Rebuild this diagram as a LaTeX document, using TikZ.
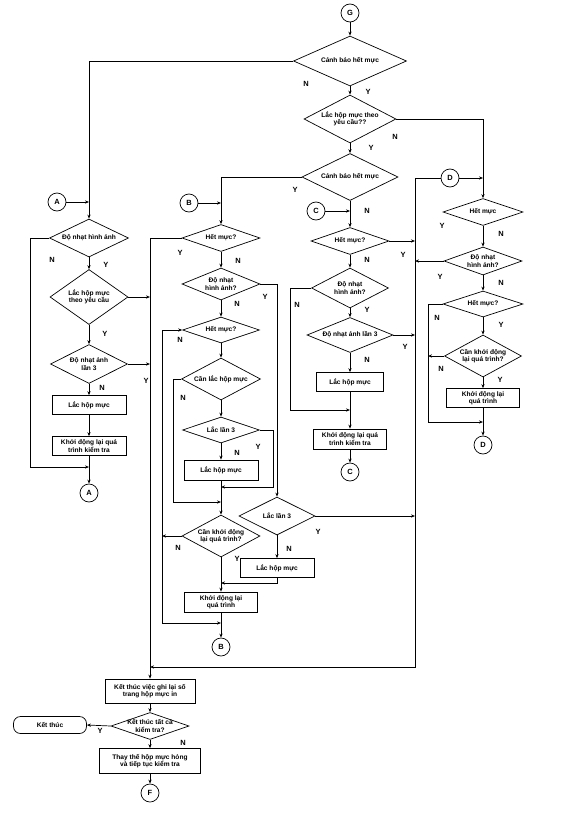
\documentclass[tikz,border=0pt]{standalone}
\usepackage{fontspec}
\setsansfont{Liberation Sans}
\usetikzlibrary{shapes.geometric,arrows.meta}

\begin{document}
\begin{tikzpicture}[
        x=1pt, y=-1pt,
        font=\sffamily\bfseries\fontsize{6.6}{7.4}\selectfont,
        line width=0.7pt,
        arr/.style={-{Stealth[length=4pt,width=3.2pt]}},
        dec/.style n args={3}{diamond, draw, minimum width=#1, minimum height=#2, inner sep=0pt, label={[align=center]center:#3}},
        box/.style 2 args={draw, rectangle, minimum width=#1, minimum height=#2, inner sep=1pt, align=center},
        conn/.style={draw, circle, minimum size=18pt, inner sep=0pt, font=\sffamily\bfseries\fontsize{7.5}{8}\selectfont},
        yn/.style={font=\sffamily\bfseries\fontsize{7.5}{8}\selectfont},
    ]
    \useasboundingbox (0,0) rectangle (576,827);

    % Cột giữa: cảnh báo hết mực
    \node[conn] (cG) at (350,13) {G};
    \node[dec={113}{50}{Cảnh báo hết mực}] (d1) at (350,61) {};
    \node[dec={92}{48}{Lắc hộp mực theo\\yêu cầu??}] (d2) at (350,119) {};
    \node[dec={96}{47}{Cảnh báo hết mực}] (d3) at (350,177) {};

    % Cột A
    \node[conn] (cA1) at (57,202) {A};
    \node[dec={79}{38}{Độ nhạt hình ảnh}] (dA1) at (89,238) {};
    \node[dec={78}{55}{Lắc hộp mực\\theo yêu cầu}] (dA2) at (89,297) {};
    \node[dec={77}{39}{Độ nhạt ảnh\\lần 3}] (dA3) at (89,364) {};
    \node[box={74}{19}] (rA1) at (89,405) {Lắc hộp mực};
    \node[box={74}{19}] (rA2) at (89,446) {Khởi động lại quá\\trình kiểm tra};
    \coordinate (jA) at (89,467);
    \node[conn] (cA2) at (89,493) {A};

    % Cột B
    \node[conn] (cB1) at (189,203) {B};
    \node[dec={78}{27}{Hết mực?}] (dB1) at (221,238) {};
    \node[dec={78}{32}{Độ nhạt\\hình ảnh?}] (dB2) at (221,284) {};
    \node[dec={77}{26}{Hết mực?}] (dB3) at (221,330) {};
    \node[dec={79}{42}{Cần lắc hộp mực}] (dB4) at (221,379) {};
    \node[dec={77}{26}{Lắc lần 3}] (dB5) at (221,430) {};
    \node[box={74}{20}] (rB1) at (221,470) {Lắc hộp mực};
    \coordinate (jB0) at (221,487);
    \coordinate (jB1) at (221,502);
    \node[dec={78}{42}{Cần khởi động\\lại quá trình?}] (dB6) at (221,536) {};
    \coordinate (jB2) at (221,583);
    \node[box={73}{20}] (rB2) at (221,602) {Khởi động lại\\quá trình};
    \coordinate (jB3) at (221,623);
    \node[conn] (cB2) at (221,647) {B};
    \node[dec={76}{38}{Lắc lần 3}] (dB7) at (277,516) {};
    \node[box={74}{19}] (rB3) at (277,568) {Lắc hộp mực};

    % Cột C
    \node[conn] (cC1) at (316,211) {C};
    \node[dec={78}{27}{Hết mực?}] (dC1) at (350,241) {};
    \node[dec={77}{40}{Độ nhạt\\hình ảnh?}] (dC2) at (350,288) {};
    \node[dec={86}{35}{Độ nhạt ảnh lần 3}] (dC3) at (350,335) {};
    \node[box={67}{19}] (rC1) at (350,382) {Lắc hộp mực};
    \coordinate (jC) at (350,410);
    \node[box={73}{20}] (rC2) at (350,439) {Khởi động lại quá\\trình kiểm tra};
    \node[conn] (cC2) at (350,472) {C};

    % Cột D
    \node[conn] (cD1) at (450,178) {D};
    \node[dec={80}{27}{Hết mực}] (dD1) at (483,212) {};
    \node[dec={78}{28}{Độ nhạt\\hình ảnh?}] (dD2) at (483,261) {};
    \node[dec={80}{26}{Hết mực?}] (dD3) at (483,304) {};
    \node[dec={77}{42}{Cần khởi động\\lại quá trình?}] (dD4) at (483,356) {};
    \node[box={73}{19}] (rD1) at (483,398) {Khởi động lại\\quá trình};
    \coordinate (jD) at (483,422);
    \node[conn] (cD2) at (483,445) {D};

    % Phần kết thúc
    \node[box={90}{24}] (rE1) at (150,691) {Kết thúc việc ghi lại số\\trang hộp mực in};
    \node[dec={78}{27}{Kết thúc tất cả\\kiểm tra?}] (dE) at (150,726) {};
    \node[draw, rounded corners=7pt, minimum width=73pt, minimum height=17pt] (kt) at (50,725) {Kết thúc};
    \node[box={101}{25}] (rE2) at (150,761) {Thay thế hộp mực hỏng\\và tiếp tục kiểm tra};
    \node[conn] (cF) at (150,793) {F};

    % Hai đường gom bên trái và bên phải
    \coordinate (xL) at (150,667);
    \coordinate (xR) at (415,667);
    \coordinate (xB) at (162,0);
    \coordinate (xD) at (428,0);

    % Nối phần trên
    \draw[arr] (cG) -- (d1);
    \draw[arr] (d1.west) -| (dA1.north);
    \draw[arr] (cA1) -- (cA1 -| dA1.north);
    \draw[arr] (d1) -- (d2);
    \draw[arr] (d2.east) -| (dD1.north);
    \draw[arr] (cD1) -- (cD1 -| dD1.north);
    \draw[arr] (d2) -- (d3);
    \draw[arr] (d3.west) -| (dB1.north);
    \draw[arr] (cB1) -- (cB1 -| dB1.north);
    \draw[arr] (d3) -- (dC1);
    \draw[arr] (cC1) -- (cC1 -| dC1.north);

    % Nối cột A
    \draw[arr] (dA1) -- (dA2);
    \draw[arr] (dA2) -- (dA3);
    \draw[arr] (dA3) -- (rA1);
    \draw[arr] (rA1) -- (rA2);
    \draw[arr] (rA2) -- (cA2);
    \draw[arr] (dA1.west) -- ++(-19,0) |- (jA);
    \draw[arr] (dA2.east) -- (dA2.east -| xL);
    \draw[arr] (dA3.east) -- (dA3.east -| xL);

    % Đường gom
    \draw[arr] (dB1.west) -| (rE1.north);
    \draw[arr] (cD1.west) -| (xR) -- (xL);

    % Nối cột B
    \draw[arr] (dB1) -- (dB2);
    \draw[arr] (dB2) -- (dB3);
    \draw[arr] (dB3) -- (dB4);
    \draw[arr] (dB4) -- (dB5);
    \draw[arr] (dB5) -- (rB1);
    \draw[arr] (rB1) -- (dB6);
    \draw[arr] (dB5.east) -- ++(13,0) |- (jB0);
    \draw[arr] (dB4.west) -- ++(-8,0) |- (jB1);
    \draw[arr] (dB2.east) -| (dB7.north);
    \draw[arr] (dB7.east) -- (dB7.east -| xR);
    \draw[arr] (dB7) -- (rB3);
    \draw[arr] (rB3) |- (jB2);
    \draw[arr] (dB6) -- (rB2);
    \draw[arr] (rB2) -- (cB2);
    \draw[arr] (dB6.west) -- (dB6.west -| xB);
    \draw[arr] (xB |- dB3.west) -- (dB3.west);
    \draw[arr] (xB |- dB3.west) |- (jB3);

    % Nối cột C
    \draw[arr] (dC1) -- (dC2);
    \draw[arr] (dC2) -- (dC3);
    \draw[arr] (dC3) -- (rC1);
    \draw[arr] (rC1) -- (rC2);
    \draw[arr] (rC2) -- (cC2);
    \draw[arr] (dC2.west) -- ++(-21,0) |- (jC);
    \draw[arr] (dC1.east) -- (dC1.east -| xR);
    \draw[arr] (dC3.east) -- (dC3.east -| xR);

    % Nối cột D
    \draw[arr] (dD1) -- (dD2);
    \draw[arr] (dD2) -- (dD3);
    \draw[arr] (dD3) -- (dD4);
    \draw[arr] (dD4) -- (rD1);
    \draw[arr] (rD1) -- (cD2);
    \draw[arr] (dD2.west) -- (dD2.west -| xR);
    \draw[arr] (dD3.west) -- (dD3.west -| xD) |- (jD);
    \draw[arr] (dD4.west) -- (dD4.west -| xD);

    % Nối phần kết thúc
    \draw[arr] (rE1) -- (dE);
    \draw[arr] (dE.west) -- (kt.east);
    \draw[arr] (dE) -- (rE2);
    \draw[arr] (rE2) -- (cF);

    % Nhãn Y / N
    \foreach \x/\y/\t [count=\i] in {
        306/84/N, 368/92/Y, 395/137/N, 371/148/Y, 295/190/Y, 367/211/N,
        403/255/Y, 367/260/N, 297/305/N, 367/310/Y, 405/347/Y, 367/360/N,
        52/260/N, 106/265/Y, 105/334/Y, 146/381/Y, 102/388/N,
        180/253/Y, 238/261/N, 265/297/Y, 237/304/N, 180/340/N, 183/398/N,
        258/447/Y, 237/453/N, 178/548/N, 237/559/Y, 318/532/Y, 289/549/N,
        442/226/Y, 501/234/N, 440/277/Y, 501/283/N, 437/318/N, 501/325/Y,
        441/369/N, 500/380/Y, 100/731/Y, 183/743/N} {
        \node[yn] (lb\i) at (\x,\y) {\t};
    }

\end{tikzpicture}
\end{document}
